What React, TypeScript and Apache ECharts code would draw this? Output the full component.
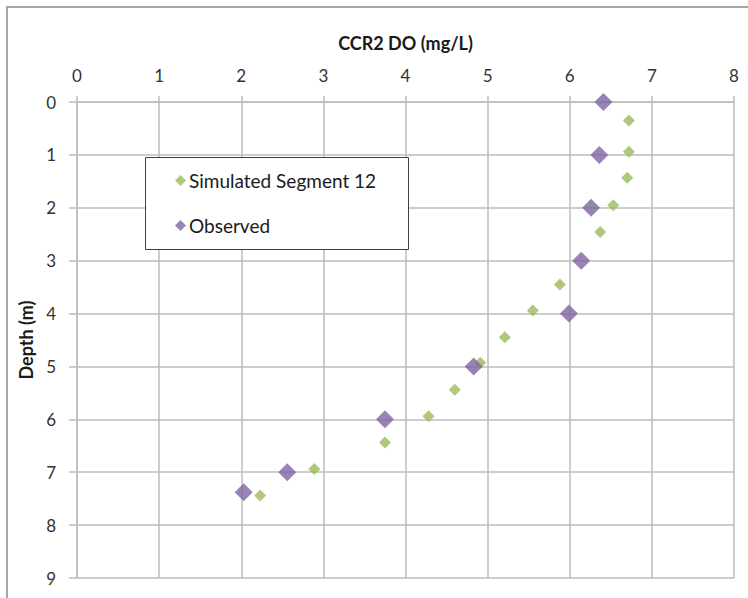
import React, { useEffect, useRef } from "react";
import * as echarts from "echarts";

const simulatedDO = [6.72, 6.72, 6.70, 6.53, 6.37, 5.88, 5.55, 5.21, 4.91, 4.60, 4.28, 3.75, 2.89, 2.23];
const simulatedDepth = [0.35, 0.94, 1.43, 1.95, 2.46, 3.45, 3.94, 4.45, 4.93, 5.44, 5.94, 6.44, 6.94, 7.44];
const observedDO = [6.41, 6.36, 6.26, 6.14, 5.99, 4.83, 3.75, 2.56, 2.03];
const observedDepth = [0, 1, 2, 3, 4, 5, 6, 7, 7.38];

const FONT = "Lato";
const GRID_COLOR = "#bdbdbd";
const TEXT_COLOR = "#333333";

export default function App() {
  const ref = useRef<HTMLDivElement>(null);
  useEffect(() => {
    if (!ref.current) return;
    const chart = echarts.init(ref.current, null, { renderer: "svg" });
    const sim = simulatedDO.map((v, i) => [v, simulatedDepth[i]]);
    const obs = observedDO.map((v, i) => [v, observedDepth[i]]);
    chart.setOption({
      animation: false,
      backgroundColor: "#ffffff",
      textStyle: { fontFamily: FONT },
      grid: { left: 77, right: 14, top: 102, bottom: 20, containLabel: false },
      graphic: [
        {
          type: "rect",
          shape: { x: 7, y: 7, width: 760, height: 620 },
          style: { fill: "none", stroke: "#a6a6a6", lineWidth: 2 },
          silent: true,
          z: -1,
        },
        {
          type: "rect",
          shape: { x: 145.5, y: 157.5, width: 263, height: 92 },
          style: { fill: "#ffffff", stroke: "#404040", lineWidth: 1 },
          silent: true,
          z: 50,
        },
      ],
      legend: {
        orient: "vertical",
        left: 175,
        top: 171,
        itemGap: 26,
        itemWidth: 11,
        itemHeight: 11,
        padding: 0,
        z: 60,
        textStyle: { fontFamily: FONT, fontSize: 19, color: "#1a1a1a", padding: [0, 0, 0, -2] },
        data: ["Simulated Segment 12", "Observed"],
      },
      xAxis: {
        type: "value",
        position: "top",
        min: 0,
        max: 8,
        interval: 1,
        name: "CCR2 DO (mg/L)",
        nameLocation: "middle",
        nameGap: 50,
        nameTextStyle: { fontFamily: FONT, fontSize: 18, fontWeight: "bold", color: "#1a1a1a" },
        axisLine: { show: true, lineStyle: { color: GRID_COLOR, width: 1.5 } },
        axisTick: { show: true, length: 6, lineStyle: { color: GRID_COLOR, width: 1.5 } },
        axisLabel: { margin: 18, fontSize: 17, color: TEXT_COLOR, fontFamily: FONT },
        splitLine: { show: true, lineStyle: { color: GRID_COLOR, width: 1.5 } },
      },
      yAxis: {
        type: "value",
        inverse: true,
        min: 0,
        max: 9,
        interval: 1,
        name: "Depth (m)",
        nameLocation: "middle",
        nameGap: 39,
        nameRotate: 90,
        nameTextStyle: { fontFamily: FONT, fontSize: 18, fontWeight: "bold", color: "#1a1a1a" },
        axisLine: { show: true, lineStyle: { color: GRID_COLOR, width: 1.5 } },
        axisTick: { show: true, length: 8, lineStyle: { color: GRID_COLOR, width: 1.5 } },
        axisLabel: { margin: 21, fontSize: 17, color: TEXT_COLOR, fontFamily: FONT },
        splitLine: { show: true, lineStyle: { color: GRID_COLOR, width: 1.5 } },
      },
      series: [
        {
          name: "Simulated Segment 12",
          type: "scatter",
          symbol: "diamond",
          symbolSize: 12,
          itemStyle: { color: "#9BBB59" },
          data: sim,
          z: 2,
        },
        {
          name: "Observed",
          type: "scatter",
          symbol: "diamond",
          symbolSize: 18,
          itemStyle: { color: "#8064A2" },
          data: obs,
          z: 3,
        },
      ],
    });
    return () => chart.dispose();
  }, []);
  return (
    <div
      ref={ref}
      style={{ position: "fixed", left: 0, top: 0, width: 748, height: 598, background: "#fff" }}
    />
  );
}
